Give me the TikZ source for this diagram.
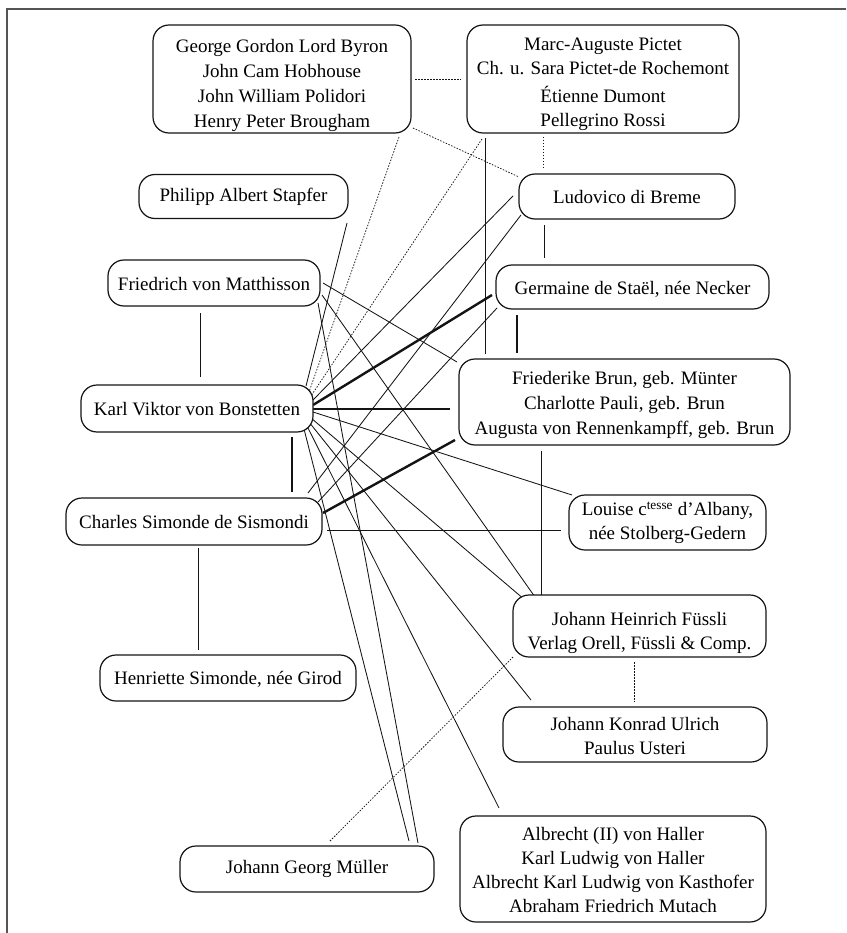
\documentclass[tikz,border=0pt]{standalone}
\usepackage{fontspec}
\setmainfont{Liberation Serif}
\pgfdeclarelayer{bg}
\pgfsetlayers{bg,main}
\definecolor{ink}{HTML}{141414}
\definecolor{framegray}{HTML}{555555}
\newcommand{\upstrut}[1]{\rule{0pt}{#1}}
\tikzset{
  person/.style={draw=ink, fill=white, line width=1.2pt, rounded corners=16pt,
    inner sep=0pt, align=center, font=\fontsize{19}{24}\selectfont},
  wide/.style={font=\fontsize{19}{25}\selectfont},
  relthin/.style={draw=ink, line width=0.85pt},
  relthick/.style={draw=ink, line width=2.4pt},
  reldot/.style={draw=ink, line width=0.75pt, dash pattern=on 1.5pt off 1.5pt},
  pageframe/.style={draw=framegray, line width=1.5pt},
}
\begin{document}
\begin{tikzpicture}[x=1pt,y=-1pt]
\useasboundingbox (0,0) rectangle (846,933);
\draw[pageframe] (846,9) -- (7,9) -- (7,933);

\node[person, wide, minimum width=258pt, minimum height=108pt] (byr) at (282,79)
  {\upstrut{26pt}George Gordon Lord Byron\\John Cam Hobhouse\\John William Polidori\\Henry Peter Brougham};
\node[person, minimum width=272pt, minimum height=108pt] (pic) at (603,79)
  {\upstrut{23pt}Marc-Auguste Pictet\\Ch. u. Sara Pictet-de Rochemont\\[4pt]Étienne Dumont\\Pellegrino Rossi};
\node[person, minimum width=209pt, minimum height=44pt] (sta) at (243.5,196.5) {\upstrut{15pt}Philipp Albert Stapfer};
\node[person, minimum width=216pt, minimum height=45pt] (lud) at (627,196.5) {\upstrut{15pt}Ludovico di Breme};
\node[person, minimum width=212pt, minimum height=46pt] (mat) at (214,283) {\upstrut{16pt}Friedrich von Matthisson};
\node[person, minimum width=273pt, minimum height=44pt] (ger) at (632.5,287) {\upstrut{17pt}Germaine de Staël, née Necker};
\node[person, minimum width=232pt, minimum height=47pt] (bon) at (197,408.5) {\upstrut{15pt}Karl Viktor von Bonstetten};
\node[person, wide, minimum width=331pt, minimum height=86pt] (fri) at (624.5,402)
  {\upstrut{19pt}Friederike Brun, geb. Münter\\Charlotte Pauli, geb. Brun\\Augusta von Rennenkampff, geb. Brun};
\node[person, minimum width=256pt, minimum height=47pt] (sis) at (194,521.5) {\upstrut{15pt}Charles Simonde de Sismondi};
\node[person, minimum width=197pt, minimum height=55pt] (lou) at (667.5,522.5)
  {Louise c\textsuperscript{tesse} d’Albany,\\née Stolberg-Gedern};
\node[person, minimum width=253pt, minimum height=62pt] (fue) at (639.5,626)
  {\upstrut{27pt}Johann Heinrich Füssli\\Verlag Orell, Füssli \& Comp.};
\node[person, minimum width=256pt, minimum height=46pt] (hen) at (228,678) {\upstrut{15pt}Henriette Simonde, née Girod};
\node[person, minimum width=264pt, minimum height=55pt] (ulr) at (635,734.5)
  {\upstrut{16pt}Johann Konrad Ulrich\\Paulus Usteri};
\node[person, minimum width=254pt, minimum height=46pt] (mue) at (307,869) {Johann Georg Müller};
\node[person, minimum width=306pt, minimum height=106pt] (hal) at (613,869)
  {\upstrut{16pt}Albrecht (II) von Haller\\Karl Ludwig von Haller\\Albrecht Karl Ludwig von Kasthofer\\Abraham Friedrich Mutach};

\begin{pgfonlayer}{bg}
\draw[reldot] ([shift={(133,0)}]byr.center) -- ([shift={(-142,0)}]pic.center);
\draw[reldot] ([shift={(131,49)}]byr.center) -- ([shift={(-108,-19.5)}]lud.center);
\draw[reldot] ([shift={(117,58)}]byr.center) -- ([shift={(112,-16.5)}]bon.center);
\draw[reldot] ([shift={(-121,60)}]pic.center) -- ([shift={(114,-12.5)}]bon.center);
\draw[reldot] ([shift={(-60,58)}]pic.center) -- ([shift={(-84,-28.5)}]lud.center);
\draw[relthin] ([shift={(-118,59)}]pic.center) -- ([shift={(-139.5,-48)}]fri.center);
\draw[relthin] ([shift={(103.5,26.5)}]sta.center) -- ([shift={(109,-22.5)}]bon.center);
\draw[relthin] ([shift={(-114,-0.5)}]lud.center) -- ([shift={(116,-8.5)}]bon.center);
\draw[relthin] ([shift={(-106,18.5)}]lud.center) -- ([shift={(114,-28.5)}]sis.center);
\draw[relthin] ([shift={(-83,28.5)}]lud.center) -- ([shift={(-88.5,-29)}]ger.center);
\draw[relthick] ([shift={(-140.5,8)}]ger.center) -- ([shift={(116,-3.5)}]bon.center);
\draw[relthin] ([shift={(-135.5,21)}]ger.center) -- ([shift={(124,-19.5)}]sis.center);
\draw[relthick] ([shift={(-115.5,28)}]ger.center) -- ([shift={(-107.5,-49)}]fri.center);
\draw[relthin] ([shift={(-14,30)}]mat.center) -- ([shift={(3,-31.5)}]bon.center);
\draw[relthin] ([shift={(109,0)}]mat.center) -- ([shift={(-167.5,-40)}]fri.center);
\draw[relthin] ([shift={(108,12)}]mat.center) -- ([shift={(-104.5,-29)}]fue.center);
\draw[relthin] ([shift={(104,20)}]mat.center) -- ([shift={(111,-26)}]mue.center);
\draw[relthick] ([shift={(116,0.5)}]bon.center) -- ([shift={(-174.5,7)}]fri.center);
\draw[relthin] ([shift={(116,3.5)}]bon.center) -- ([shift={(-95.5,-27.5)}]lou.center);
\draw[relthin] ([shift={(114,9.5)}]bon.center) -- ([shift={(-114.5,-26)}]fue.center);
\draw[relthin] ([shift={(112,13.5)}]bon.center) -- ([shift={(-104,-34.5)}]ulr.center);
\draw[relthin] ([shift={(110,17.5)}]bon.center) -- ([shift={(-114,-61)}]hal.center);
\draw[relthin] ([shift={(107,20.5)}]bon.center) -- ([shift={(102,-28)}]mue.center);
\draw[relthick] ([shift={(95,28.5)}]bon.center) -- ([shift={(98,-29.5)}]sis.center);
\draw[relthick] ([shift={(-169.5,38)}]fri.center) -- ([shift={(129,-8.5)}]sis.center);
\draw[relthin] ([shift={(133,8.5)}]sis.center) -- ([shift={(-106.5,7.5)}]lou.center);
\draw[relthin] ([shift={(4,26.5)}]sis.center) -- ([shift={(-30,-28)}]hen.center);
\draw[relthin] ([shift={(-83.5,49)}]fri.center) -- ([shift={(-98.5,-30)}]fue.center);
\draw[reldot] ([shift={(-5.5,36)}]fue.center) -- ([shift={(-1,-32.5)}]ulr.center);
\draw[reldot] ([shift={(23,-28)}]mue.center) -- ([shift={(-126.5,31)}]fue.center);
\end{pgfonlayer}
\end{tikzpicture}
\end{document}
